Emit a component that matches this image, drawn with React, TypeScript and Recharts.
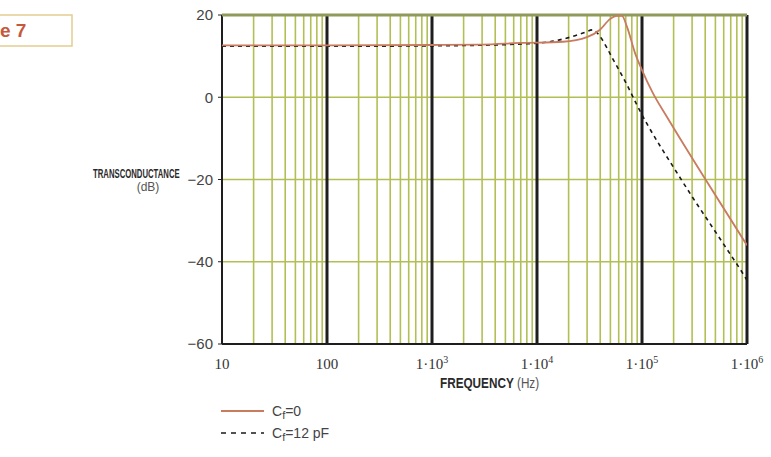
import React from 'react';
import { LineChart, Line, XAxis, YAxis, ReferenceLine } from 'recharts';

// ---- data ----
const freqTicks = [10, 100, 1000, 10000, 100000, 1000000];
const dbTicks = [-60, -40, -20, 0, 20];
const decadeLines = [100, 1000, 10000, 100000];
const gridDecades = [10, 100, 1000, 10000, 100000];
const minorMultipliers = [2, 3, 4, 5, 6, 7, 8, 9];
const hGridLines = [0, -20, -40];

const cf0Freq = [10, 100, 1000, 3000, 6890, 17700, 29900, 39800, 49500, 57800, 64500, 72000, 85700, 100000, 127000, 173000, 389000, 1000000];
const cf0Db = [12.6, 12.6, 12.7, 12.8, 13.2, 13.5, 14.6, 16.4, 19.0, 19.8, 19.8, 17.1, 10.8, 6.6, 1.0, -4.8, -19.4, -36];

const cf12Freq = [10, 100, 1000, 5000, 12400, 20600, 27400, 34100, 39800, 46400, 53000, 61700, 72000, 89100, 111700, 150000, 197000, 306000, 474000, 646000, 895000, 1000000];
const cf12Db = [12.4, 12.4, 12.5, 12.8, 13.4, 14.6, 15.6, 16.4, 14.8, 12.0, 9.2, 6.2, 3.0, -1.8, -6.5, -12.0, -16.8, -24.5, -31.8, -37.0, -42.5, -44.5];

const cf0Data = cf0Freq.map((f, i) => ({ f, db: cf0Db[i] }));
const cf12Data = cf12Freq.map((f, i) => ({ f, db: cf12Db[i] }));
const minorLines = gridDecades.flatMap((d) => minorMultipliers.map((m) => d * m));

const GRID_GREEN = '#b3bf55';
const ORANGE = '#c97b60';

const XTick = (props: any) => {
  const { x, y, payload } = props;
  const v = payload.value as number;
  const exp = Math.round(Math.log10(v));
  const style = { fontFamily: 'Liberation Serif, serif', fontSize: 15, fill: '#333' };
  if (exp <= 2) {
    return (
      <text x={x} y={y + 17} textAnchor="middle" style={style}>
        {String(v)}
      </text>
    );
  }
  return (
    <text x={x} y={y + 17} textAnchor="middle" style={style}>
      <tspan>{'1·10'}</tspan>
      <tspan dy={-6} fontSize={10}>{String(exp)}</tspan>
    </text>
  );
};

export default function App() {
  return (
    <div style={{ position: 'absolute', left: 0, top: 0, width: 771, height: 457, background: '#fff' }}>
      <LineChart
        width={771}
        height={457}
        margin={{ top: 15, right: 24, bottom: 83, left: 182 }}
      >
        <XAxis
          dataKey="f"
          type="number"
          scale="log"
          domain={[10, 1000000]}
          ticks={freqTicks}
          allowDataOverflow
          axisLine={false}
          tickLine={false}
          height={30}
          tick={<XTick />}
          interval={0}
        />
        <YAxis
          type="number"
          domain={[-60, 20]}
          ticks={dbTicks}
          width={40}
          axisLine={false}
          tickSize={4}
          tickMargin={5}
          tickLine={{ stroke: '#222' }}
          tickFormatter={(v: number) => String(v).replace('-', '\u2212')}
          tick={{ fontFamily: 'Liberation Sans, sans-serif', fontSize: 15, fill: '#444' }}
          interval={0}
        />
        {minorLines.map((v) => (
          <ReferenceLine key={'m' + v} x={v} stroke={GRID_GREEN} strokeWidth={1.6} ifOverflow="hidden" />
        ))}
        {hGridLines.map((v) => (
          <ReferenceLine key={'h' + v} y={v} stroke={GRID_GREEN} strokeWidth={1.6} />
        ))}
        {decadeLines.map((v) => (
          <ReferenceLine key={'d' + v} x={v} stroke="#1e1e1e" strokeWidth={3} />
        ))}
        <ReferenceLine x={10} stroke="#1e1e1e" strokeWidth={2} />
        <ReferenceLine x={1000000} stroke="#1e1e1e" strokeWidth={3} />
        <ReferenceLine y={-60} stroke="#1e1e1e" strokeWidth={2} />
        <ReferenceLine y={20} stroke="#8f9a5c" strokeWidth={3} />
        <Line
          data={cf12Data}
          dataKey="db"
          type="monotone"
          stroke="#1a1a1a"
          strokeWidth={1.6}
          strokeDasharray="4 4"
          dot={false}
          isAnimationActive={false}
        />
        <Line
          data={cf0Data}
          dataKey="db"
          type="monotone"
          stroke={ORANGE}
          strokeWidth={1.8}
          dot={false}
          isAnimationActive={false}
        />
      </LineChart>
      <svg
        width={771}
        height={457}
        style={{ position: 'absolute', left: 0, top: 0, pointerEvents: 'none' }}
      >
        <rect x={-2} y={15} width={74} height={31} fill="none" stroke="#e3cd8e" strokeWidth={1.5} />
        <text x={0} y={37} style={{ fontFamily: 'Liberation Sans, sans-serif', fontWeight: 700, fontSize: 19, fill: '#c8583c' }}>
          e 7
        </text>
        <text
          transform="translate(93,178) scale(0.62,1)"
          x={0}
          y={0}
          style={{ fontFamily: 'Liberation Sans, sans-serif', fontWeight: 700, fontSize: 12.5, fill: '#2a2a2a' }}
        >
          TRANSCONDUCTANCE
        </text>
        <text
          x={148}
          y={191}
          textAnchor="middle"
          style={{ fontFamily: 'Liberation Sans, sans-serif', fontSize: 12, fill: '#555' }}
        >
          (dB)
        </text>
        <text
          transform="translate(440,388) scale(0.84,1)"
          x={0}
          y={0}
          style={{ fontFamily: 'Liberation Sans, sans-serif', fontSize: 14, fill: '#2a2a2a' }}
        >
          <tspan fontWeight={700}>FREQUENCY</tspan>
          <tspan fill="#555"> (Hz)</tspan>
        </text>
        <line x1={221} y1={411} x2={264} y2={411} stroke={ORANGE} strokeWidth={2} />
        <text x={272} y={416} style={{ fontFamily: 'Liberation Sans, sans-serif', fontSize: 14, fill: '#444' }}>
          <tspan>C</tspan>
          <tspan dy={3} fontSize={11}>f</tspan>
          <tspan dy={-3}>=0</tspan>
        </text>
        <line x1={221} y1={433} x2={264} y2={433} stroke="#1a1a1a" strokeWidth={1.6} strokeDasharray="5 5" />
        <text x={272} y={438} style={{ fontFamily: 'Liberation Sans, sans-serif', fontSize: 14, fill: '#444' }}>
          <tspan>C</tspan>
          <tspan dy={3} fontSize={11}>f</tspan>
          <tspan dy={-3}>=12 pF</tspan>
        </text>
      </svg>
    </div>
  );
}
